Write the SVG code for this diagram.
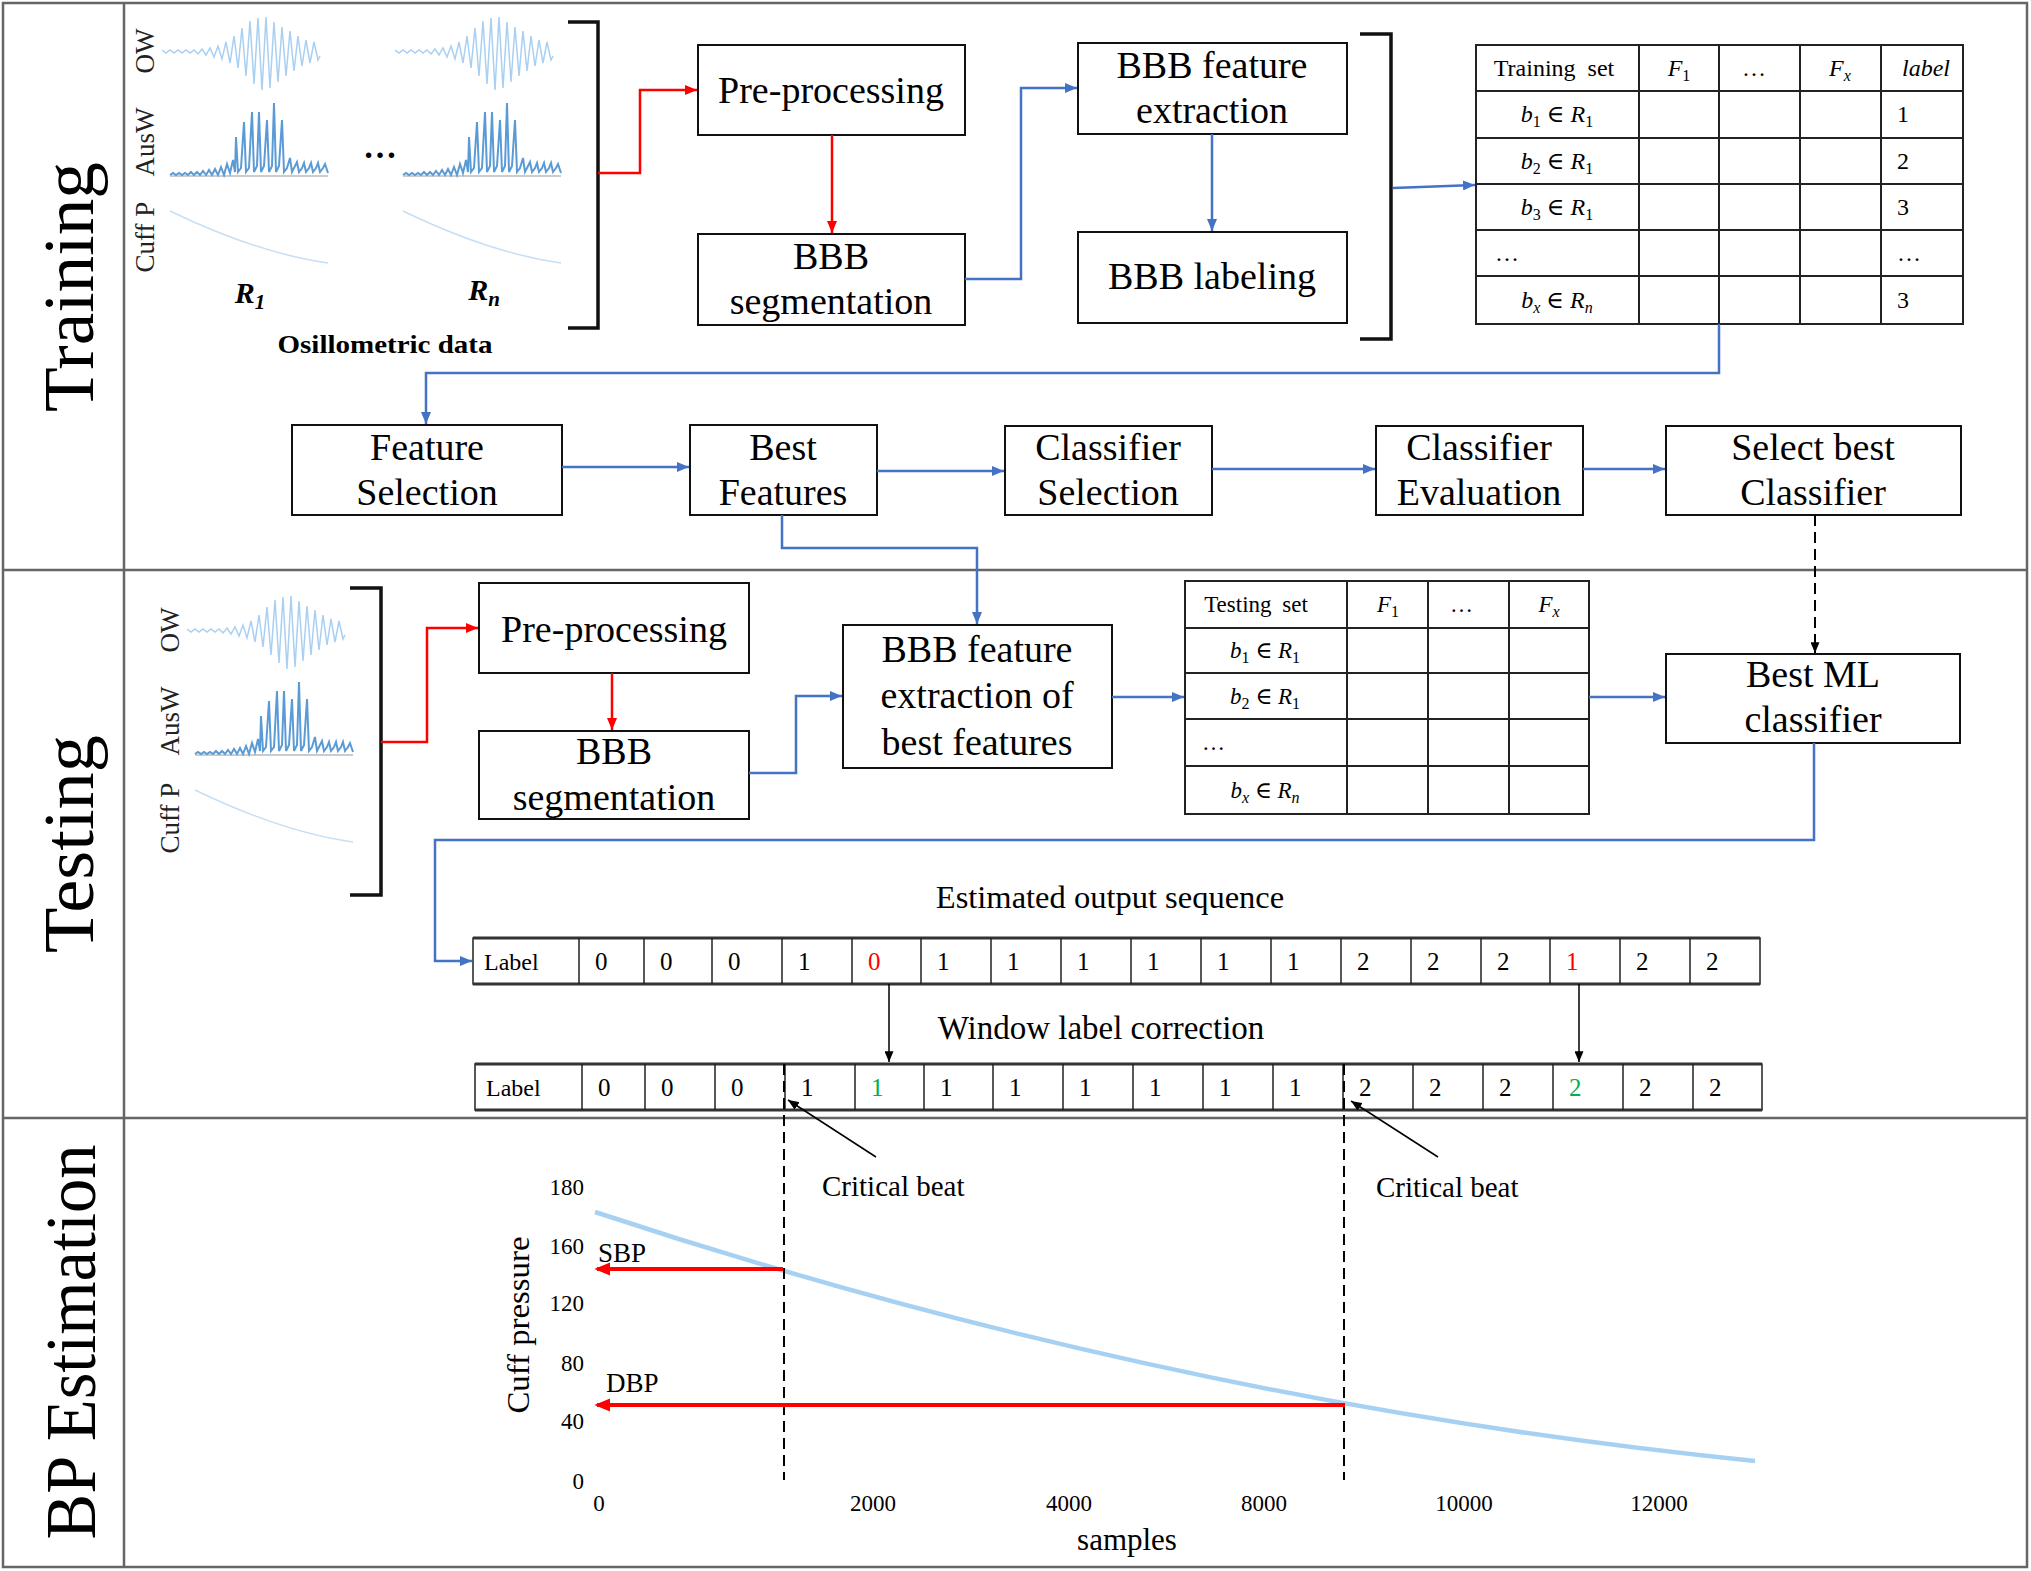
<svg xmlns="http://www.w3.org/2000/svg" width="2031" height="1571" viewBox="0 0 2031 1571">
<defs>
<style>
text{font-family:"Liberation Serif","Times New Roman","DejaVu Serif",serif;fill:#000}
.box{fill:#fff;stroke:#111;stroke-width:2}
.bl{font-size:38px;text-anchor:middle}
.sec{font-size:72px;text-anchor:middle}
.blue{fill:none;stroke:#4472C4;stroke-width:2.5}
.red{fill:none;stroke:#FF0000;stroke-width:2.5}
.blk{fill:none;stroke:#000;stroke-width:1.5}
.dash{fill:none;stroke:#000;stroke-width:2;stroke-dasharray:11 6}
.grid{fill:none;stroke:#222;stroke-width:2}
.tt{font-size:24px}
.ts{font-size:23px}
.it{font-style:italic}
.sub{font-size:16px}
.ax{font-size:23px}
.frame{fill:none;stroke:#666;stroke-width:2.5}
.ow{fill:none;stroke:#a9d0f2;stroke-width:1.5}
.aus{fill:none;stroke:#5b9bd5;stroke-width:2}
.cuff{fill:none;stroke:#c6dff5;stroke-width:1.5}
.sig{font-size:27px;fill:#222;text-anchor:middle}
.brk{fill:none;stroke:#111;stroke-width:3.5}
.lab{font-size:25px}
.cell{fill:#fff;stroke:#222;stroke-width:1.5}
.rowb{stroke:#333;stroke-width:3}
</style>
<marker id="arB" viewBox="0 0 12 10" refX="12" refY="5" markerWidth="12" markerHeight="10" markerUnits="userSpaceOnUse" orient="auto"><path d="M0,0 L12,5 L0,10 z" fill="#4472C4"/></marker>
<marker id="arR" viewBox="0 0 12 10" refX="12" refY="5" markerWidth="12" markerHeight="10" markerUnits="userSpaceOnUse" orient="auto"><path d="M0,0 L12,5 L0,10 z" fill="#FF0000"/></marker>
<marker id="arK" viewBox="0 0 12 10" refX="12" refY="5" markerWidth="11" markerHeight="9" markerUnits="userSpaceOnUse" orient="auto"><path d="M0,0 L12,5 L0,10 z" fill="#000"/></marker>
<marker id="arR2" viewBox="0 0 12 10" refX="10" refY="5" markerWidth="16" markerHeight="14" markerUnits="userSpaceOnUse" orient="auto"><path d="M0,0 L12,5 L0,10 z" fill="#FF0000"/></marker>
<g id="sig">
<polyline class="ow" points="162,50 166,53 170,50 174,53 178,50 182,53 186,50 190,53 194,50 198,54 202,49 206,55 210,48 214,57 218,46 222,59 226,42 230,63 234,36 238,68 242,28 246,76 250,21 254,84 258,18 262,90 266,17 270,88 274,22 278,82 282,27 286,76 290,31 294,71 298,36 302,66 306,40 310,63 314,42 318,60 320,56"/>
<line x1="170" y1="176" x2="328" y2="176" stroke="#bbb" stroke-width="1.5"/>
<polyline class="aus" points="170,175 173,173 176,175 179,173 182,175 185,173 188,175 191,172 194,175 197,172 200,175 203,171 206,175 209,170 212,175 215,169 218,175 221,167 224,175 227,164 230,173 233,160 235,172 236,137 238,172 241,168 244,122 246,172 249,168 252,112 254,172 257,166 259,112 261,172 264,166 267,120 269,172 272,166 274,103 276,172 279,166 282,120 284,172 287,168 290,158 292,172 295,166 297,162 299,172 302,168 304,163 306,172 309,168 311,163 313,172 316,168 318,163 320,172 323,168 325,164 328,173"/>
<path class="cuff" d="M170,211 Q257,253 328,263"/>
</g>
</defs>
<rect width="2031" height="1571" fill="#fff"/>

<g id="frame">
<rect class="frame" x="3" y="3" width="2024" height="1564"/>
<line class="frame" x1="124" y1="3" x2="124" y2="1567"/>
<line class="frame" x1="3" y1="570" x2="2027" y2="570"/>
<line class="frame" x1="3" y1="1118" x2="2027" y2="1118"/>
<text class="sec" transform="translate(93,287) rotate(-90)" textLength="250" lengthAdjust="spacingAndGlyphs">Training</text>
<text class="sec" transform="translate(93,844) rotate(-90)" textLength="218" lengthAdjust="spacingAndGlyphs">Testing</text>
<text class="sec" transform="translate(95,1342) rotate(-90)" textLength="395" lengthAdjust="spacingAndGlyphs">BP Estimation</text>
</g>

<g id="osc-train">
<use href="#sig"/>
<use href="#sig" transform="translate(233,0)"/>
<text class="sig" transform="translate(154,51) rotate(-90)">OW</text>
<text class="sig" transform="translate(154,142) rotate(-90)">AusW</text>
<text class="sig" transform="translate(154,237) rotate(-90)">Cuff P</text>
<text x="380" y="158" font-size="34" font-weight="bold" text-anchor="middle">…</text>
<text x="250" y="303" font-size="30" font-weight="bold" font-style="italic" text-anchor="middle">R<tspan font-size="21" dy="6">1</tspan></text>
<text x="484" y="300" font-size="30" font-weight="bold" font-style="italic" text-anchor="middle">R<tspan font-size="21" dy="6">n</tspan></text>
<text x="385" y="353" font-size="25" font-weight="bold" text-anchor="middle" textLength="215" lengthAdjust="spacingAndGlyphs">Osillometric data</text>
<path class="brk" d="M568,22 H598 V328 H568"/>
</g>

<g id="osc-test">
<use href="#sig" transform="translate(25,579)"/>
<text class="sig" transform="translate(179,630) rotate(-90)">OW</text>
<text class="sig" transform="translate(179,721) rotate(-90)">AusW</text>
<text class="sig" transform="translate(179,818) rotate(-90)">Cuff P</text>
<path class="brk" d="M350,588 H381 V895 H350"/>
</g>

<g id="tr-preproc"><rect class="box" x="698" y="45" width="267" height="90"/><text class="bl" x="831" y="103">Pre-processing</text></g>
<g id="tr-seg"><rect class="box" x="698" y="234" width="267" height="91"/><text class="bl" x="831" y="269">BBB</text><text class="bl" x="831" y="314">segmentation</text></g>
<g id="tr-feat"><rect class="box" x="1078" y="43" width="269" height="91"/><text class="bl" x="1212" y="78">BBB feature</text><text class="bl" x="1212" y="123">extraction</text></g>
<g id="tr-label"><rect class="box" x="1078" y="232" width="269" height="91"/><text class="bl" x="1212" y="289">BBB labeling</text></g>
<path class="brk" d="M1360,34 H1391 V339 H1360"/>

<g id="train-table">
<rect class="grid" x="1476" y="45" width="487" height="279"/>
<path class="grid" d="M1476,91 H1963 M1476,138 H1963 M1476,184 H1963 M1476,230 H1963 M1476,276 H1963 M1639,45 V324 M1719,45 V324 M1800,45 V324 M1881,45 V324"/>
<text class="tt" x="1554" y="76" text-anchor="middle" word-spacing="6">Training set</text>
<text class="tt" x="1679" y="76" text-anchor="middle"><tspan class="it">F</tspan><tspan class="sub" dy="5">1</tspan></text>
<text class="tt" x="1742" y="76">…</text>
<text class="tt" x="1840" y="76" text-anchor="middle"><tspan class="it">F</tspan><tspan class="sub it" dy="5">x</tspan></text>
<text class="tt it" x="1926" y="76" text-anchor="middle">label</text>
<text class="tt" x="1557" y="122" text-anchor="middle"><tspan class="it">b</tspan><tspan class="sub" dy="5">1</tspan><tspan dy="-5"> ∈ </tspan><tspan class="it">R</tspan><tspan class="sub" dy="5">1</tspan></text>
<text class="tt" x="1557" y="169" text-anchor="middle"><tspan class="it">b</tspan><tspan class="sub" dy="5">2</tspan><tspan dy="-5"> ∈ </tspan><tspan class="it">R</tspan><tspan class="sub" dy="5">1</tspan></text>
<text class="tt" x="1557" y="215" text-anchor="middle"><tspan class="it">b</tspan><tspan class="sub" dy="5">3</tspan><tspan dy="-5"> ∈ </tspan><tspan class="it">R</tspan><tspan class="sub" dy="5">1</tspan></text>
<text class="tt" x="1495" y="261">…</text>
<text class="tt" x="1557" y="308" text-anchor="middle"><tspan class="it">b</tspan><tspan class="sub it" dy="5">x</tspan><tspan dy="-5"> ∈ </tspan><tspan class="it">R</tspan><tspan class="sub it" dy="5">n</tspan></text>
<text class="tt" x="1897" y="122">1</text>
<text class="tt" x="1897" y="169">2</text>
<text class="tt" x="1897" y="215">3</text>
<text class="tt" x="1897" y="261">…</text>
<text class="tt" x="1897" y="308">3</text>
</g>

<g id="feat-sel"><rect class="box" x="292" y="425" width="270" height="90"/><text class="bl" x="427" y="460">Feature</text><text class="bl" x="427" y="505">Selection</text></g>
<g id="best-feat"><rect class="box" x="690" y="425" width="187" height="90"/><text class="bl" x="783" y="460">Best</text><text class="bl" x="783" y="505">Features</text></g>
<g id="clf-sel"><rect class="box" x="1005" y="426" width="207" height="89"/><text class="bl" x="1108" y="460">Classifier</text><text class="bl" x="1108" y="505">Selection</text></g>
<g id="clf-eval"><rect class="box" x="1376" y="426" width="207" height="89"/><text class="bl" x="1479" y="460">Classifier</text><text class="bl" x="1479" y="505">Evaluation</text></g>
<g id="sel-best"><rect class="box" x="1666" y="426" width="295" height="89"/><text class="bl" x="1813" y="460">Select best</text><text class="bl" x="1813" y="505">Classifier</text></g>

<g id="te-preproc"><rect class="box" x="479" y="583" width="270" height="90"/><text class="bl" x="614" y="642">Pre-processing</text></g>
<g id="te-seg"><rect class="box" x="479" y="731" width="270" height="88"/><text class="bl" x="614" y="764">BBB</text><text class="bl" x="614" y="810">segmentation</text></g>
<g id="te-feat"><rect class="box" x="843" y="625" width="269" height="143"/><text class="bl" x="977" y="662">BBB feature</text><text class="bl" x="977" y="708">extraction of</text><text class="bl" x="977" y="755">best features</text></g>
<g id="best-ml"><rect class="box" x="1666" y="654" width="294" height="89"/><text class="bl" x="1813" y="687">Best ML</text><text class="bl" x="1813" y="732">classifier</text></g>

<g id="test-table">
<rect class="grid" x="1185" y="581" width="404" height="233"/>
<path class="grid" d="M1185,628 H1589 M1185,673 H1589 M1185,719 H1589 M1185,766 H1589 M1347,581 V814 M1428,581 V814 M1509,581 V814"/>
<text class="ts" x="1256" y="612" text-anchor="middle" word-spacing="5">Testing set</text>
<text class="ts" x="1388" y="612" text-anchor="middle"><tspan class="it">F</tspan><tspan class="sub" dy="5">1</tspan></text>
<text class="ts" x="1450" y="612">…</text>
<text class="ts" x="1549" y="612" text-anchor="middle"><tspan class="it">F</tspan><tspan class="sub it" dy="5">x</tspan></text>
<text class="ts" x="1265" y="658" text-anchor="middle"><tspan class="it">b</tspan><tspan class="sub" dy="5">1</tspan><tspan dy="-5"> ∈ </tspan><tspan class="it">R</tspan><tspan class="sub" dy="5">1</tspan></text>
<text class="ts" x="1265" y="704" text-anchor="middle"><tspan class="it">b</tspan><tspan class="sub" dy="5">2</tspan><tspan dy="-5"> ∈ </tspan><tspan class="it">R</tspan><tspan class="sub" dy="5">1</tspan></text>
<text class="ts" x="1202" y="750">…</text>
<text class="ts" x="1265" y="798" text-anchor="middle"><tspan class="it">b</tspan><tspan class="sub it" dy="5">x</tspan><tspan dy="-5"> ∈ </tspan><tspan class="it">R</tspan><tspan class="sub it" dy="5">n</tspan></text>
</g>

<g id="seq-est">
<text x="1110" y="908" font-size="32.5" text-anchor="middle">Estimated output sequence</text>
<rect class="cell" x="473" y="938" width="1287" height="46"/>
<path class="rowb" d="M473,938 H1760 M473,984 H1760"/>
<path stroke="#222" stroke-width="1.5" d="M579,938 V984 M644,938 V984 M712,938 V984 M782,938 V984 M852,938 V984 M921,938 V984 M991,938 V984 M1061,938 V984 M1131,938 V984 M1201,938 V984 M1271,938 V984 M1341,938 V984 M1411,938 V984 M1481,938 V984 M1550,938 V984 M1620,938 V984 M1690,938 V984"/>
<g class="lab">
<text x="484" y="970" font-size="24">Label</text>
<text x="595" y="970">0</text><text x="660" y="970">0</text><text x="728" y="970">0</text><text x="798" y="970">1</text>
<text x="868" y="970" style="fill:#FF0000">0</text>
<text x="937" y="970">1</text><text x="1007" y="970">1</text><text x="1077" y="970">1</text><text x="1147" y="970">1</text><text x="1217" y="970">1</text><text x="1287" y="970">1</text>
<text x="1357" y="970">2</text><text x="1427" y="970">2</text><text x="1497" y="970">2</text>
<text x="1566" y="970" style="fill:#FF0000">1</text>
<text x="1636" y="970">2</text><text x="1706" y="970">2</text>
</g>
</g>

<g id="seq-corr">
<text x="1101" y="1039" font-size="33" text-anchor="middle">Window label correction</text>
<rect class="cell" x="475" y="1064" width="1287" height="46"/>
<path class="rowb" d="M475,1064 H1762 M475,1110 H1762"/>
<path stroke="#222" stroke-width="1.5" d="M582,1064 V1110 M645,1064 V1110 M715,1064 V1110 M785,1064 V1110 M855,1064 V1110 M924,1064 V1110 M993,1064 V1110 M1063,1064 V1110 M1133,1064 V1110 M1203,1064 V1110 M1273,1064 V1110 M1343,1064 V1110 M1413,1064 V1110 M1483,1064 V1110 M1553,1064 V1110 M1623,1064 V1110 M1693,1064 V1110"/>
<g class="lab">
<text x="486" y="1096" font-size="24">Label</text>
<text x="598" y="1096">0</text><text x="661" y="1096">0</text><text x="731" y="1096">0</text><text x="801" y="1096">1</text>
<text x="871" y="1096" style="fill:#00B050">1</text>
<text x="940" y="1096">1</text><text x="1009" y="1096">1</text><text x="1079" y="1096">1</text><text x="1149" y="1096">1</text><text x="1219" y="1096">1</text><text x="1289" y="1096">1</text>
<text x="1359" y="1096">2</text><text x="1429" y="1096">2</text><text x="1499" y="1096">2</text>
<text x="1569" y="1096" style="fill:#00B050">2</text>
<text x="1639" y="1096">2</text><text x="1709" y="1096">2</text>
</g>
</g>

<g id="bp-plot">
<path d="M595,1212 C982,1340 1368,1422 1755,1461" fill="none" stroke="#a6d1f2" stroke-width="4.5"/>
<g class="ax" text-anchor="end">
<text x="584" y="1195">180</text><text x="584" y="1254">160</text><text x="584" y="1311">120</text><text x="584" y="1371">80</text><text x="584" y="1429">40</text><text x="584" y="1489">0</text>
</g>
<g class="ax" text-anchor="middle">
<text x="599" y="1511">0</text><text x="873" y="1511">2000</text><text x="1069" y="1511">4000</text><text x="1264" y="1511">8000</text><text x="1464" y="1511">10000</text><text x="1659" y="1511">12000</text>
</g>
<text x="1127" y="1550" font-size="31" text-anchor="middle">samples</text>
<text transform="translate(529,1325) rotate(-90)" font-size="31" text-anchor="middle" textLength="177" lengthAdjust="spacingAndGlyphs">Cuff pressure</text>
<text x="598" y="1262" font-size="27">SBP</text>
<text x="606" y="1392" font-size="27">DBP</text>
<text x="822" y="1196" font-size="29">Critical beat</text>
<text x="1376" y="1197" font-size="29">Critical beat</text>
</g>

<g id="connectors">
<path class="red" d="M598,173 H640 V90 H697" marker-end="url(#arR)"/>
<path class="red" d="M832,135 V233" marker-end="url(#arR)"/>
<path class="blue" d="M965,279 H1021 V88 H1077" marker-end="url(#arB)"/>
<path class="blue" d="M1212,134 V231" marker-end="url(#arB)"/>
<path class="blue" d="M1393,188 L1475,185" marker-end="url(#arB)"/>
<path class="blue" d="M1719,324 V373 H426 V424" marker-end="url(#arB)"/>
<path class="blue" d="M562,467 H689" marker-end="url(#arB)"/>
<path class="blue" d="M877,471 H1004" marker-end="url(#arB)"/>
<path class="blue" d="M1212,469 H1375" marker-end="url(#arB)"/>
<path class="blue" d="M1583,469 H1665" marker-end="url(#arB)"/>
<path class="blue" d="M782,515 V548 H977 V624" marker-end="url(#arB)"/>
<path class="dash" d="M1815,515 V653" marker-end="url(#arK)"/>
<path class="red" d="M381,742 H427 V628 H478" marker-end="url(#arR)"/>
<path class="red" d="M612,673 V730" marker-end="url(#arR)"/>
<path class="blue" d="M749,773 H796 V696 H842" marker-end="url(#arB)"/>
<path class="blue" d="M1112,697 H1184" marker-end="url(#arB)"/>
<path class="blue" d="M1589,697 H1665" marker-end="url(#arB)"/>
<path class="blue" d="M1814,743 V840 H435 V961 H472" marker-end="url(#arB)"/>
<path class="blk" d="M889,984 V1062" marker-end="url(#arK)"/>
<path class="blk" d="M1579,984 V1062" marker-end="url(#arK)"/>
<path class="blk" d="M876,1157 L788,1100" marker-end="url(#arK)"/>
<path class="blk" d="M1438,1157 L1351,1101" marker-end="url(#arK)"/>
<path class="dash" d="M784,1064 V1480"/>
<path class="dash" d="M1344,1064 V1480"/>
<path fill="none" stroke="#FF0000" stroke-width="4" d="M783,1269 H597" marker-end="url(#arR2)"/>
<path fill="none" stroke="#FF0000" stroke-width="4" d="M1345,1405 H597" marker-end="url(#arR2)"/>
</g>
</svg>
